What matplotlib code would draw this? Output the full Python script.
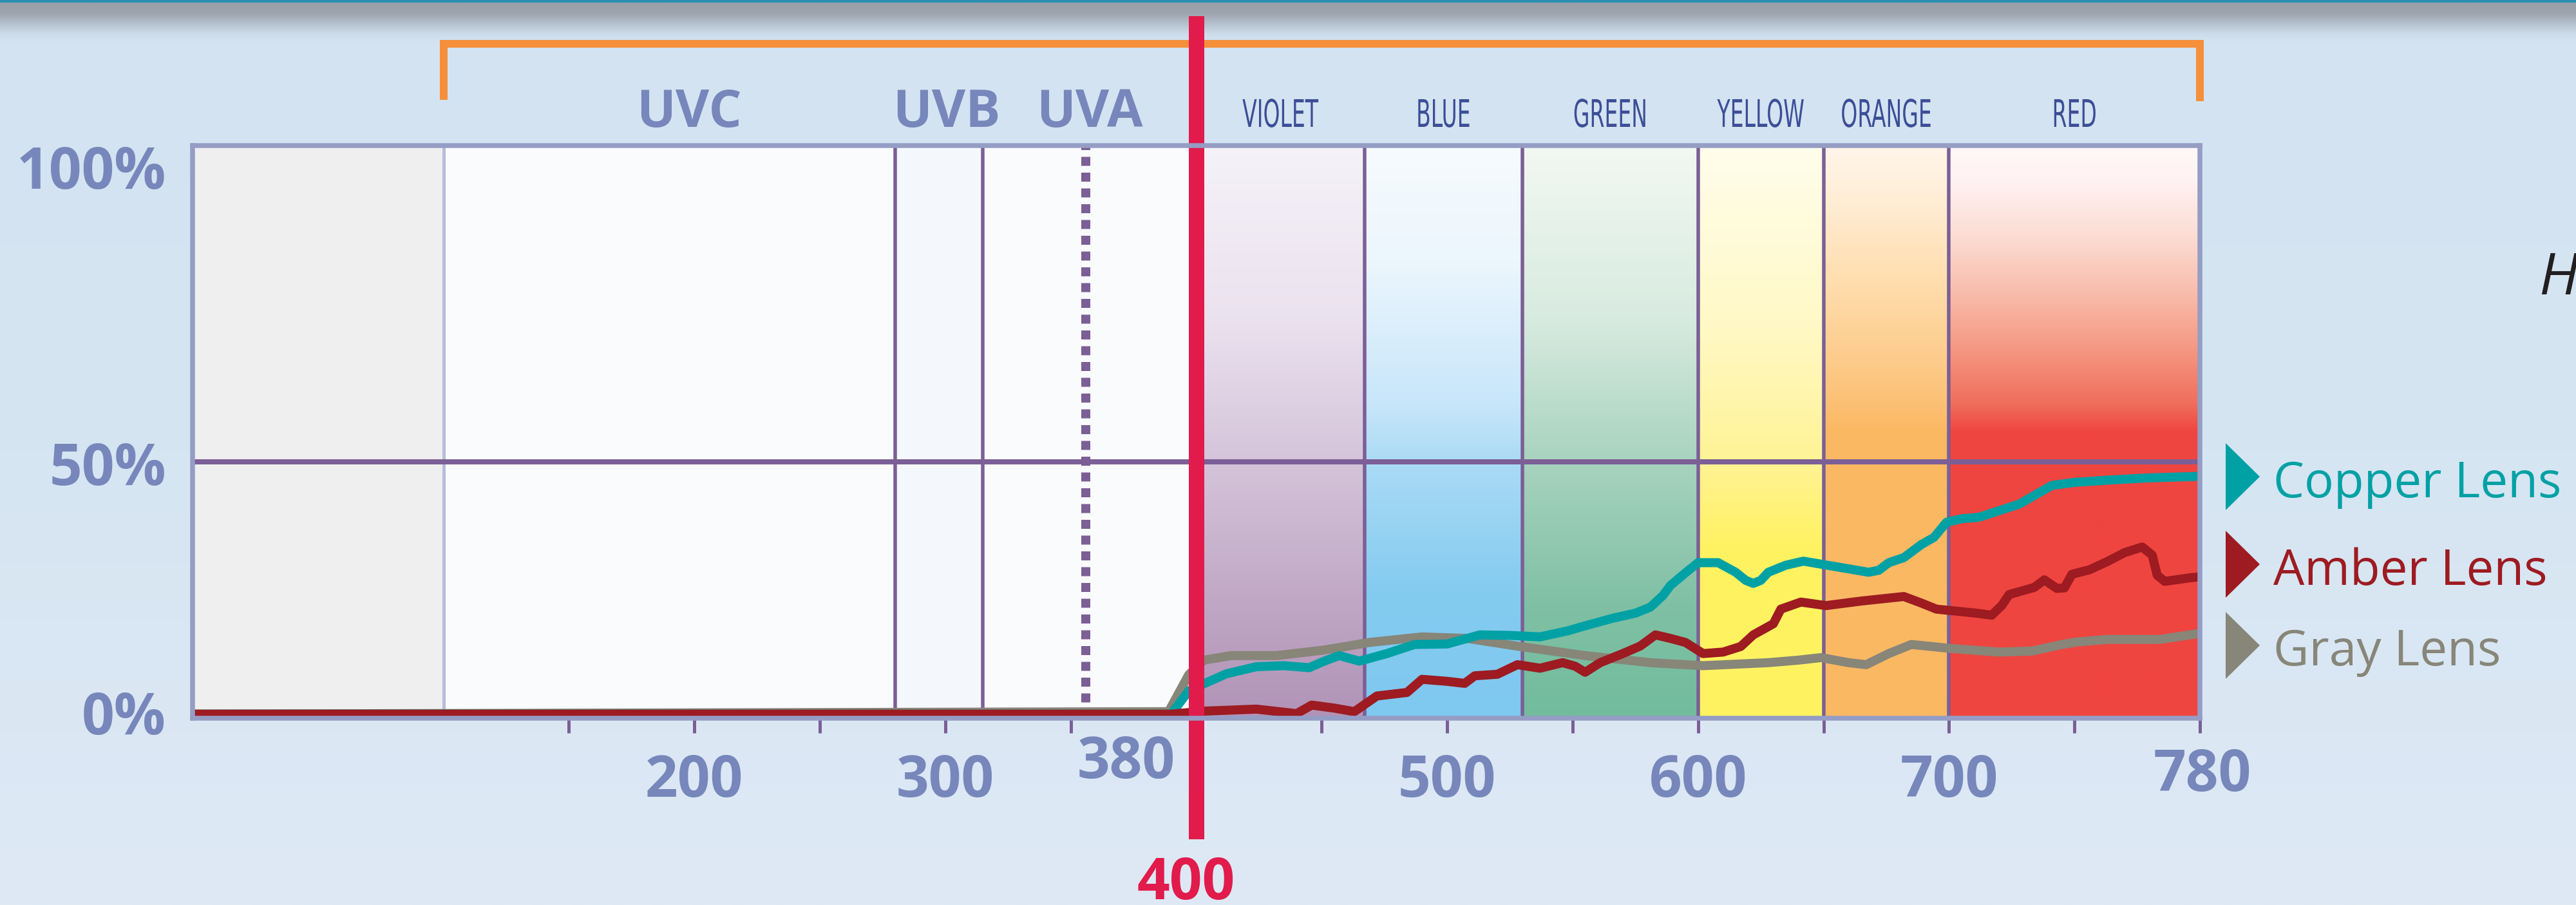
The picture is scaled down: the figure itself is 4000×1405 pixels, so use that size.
import numpy as np
import matplotlib
matplotlib.use("Agg")
import matplotlib.pyplot as plt
from matplotlib.transforms import blended_transform_factory, Affine2D
from matplotlib.patheffects import AbstractPathEffect
from matplotlib.patches import Polygon
from matplotlib.colors import to_rgb

# ---------------- data ----------------
gray_nm = [0, 389, 397, 403, 414, 432, 451, 469, 490, 508, 529, 555, 581, 602,
           628, 640, 649, 660, 667, 676, 685, 701, 720, 733, 745, 751, 763, 784, 800]
gray_pct = [0, 0.5, 7.8, 10.7, 11.6, 11.6, 12.7, 14.2, 15.3, 15.0, 13.4, 11.6, 10.2, 9.6,
            10.2, 10.7, 11.2, 10.2, 9.8, 12.0, 13.8, 13.0, 12.3, 12.5, 13.8, 14.3, 14.8, 14.8, 16.0]

copper_nm = [0, 390, 397, 403, 412, 424, 435, 445, 451, 457, 465, 476, 487, 500, 513,
             525, 537, 548, 555, 566, 575, 581, 586, 589, 595, 600, 608, 615, 619, 622,
             625, 628, 635, 642, 655, 668, 672, 676, 682, 689, 694, 699, 705, 712, 728,
             741, 750, 765, 780, 800]
copper_pct = [0, 0, 4.6, 6.0, 8.0, 9.4, 9.6, 9.2, 10.5, 11.6, 10.5, 12.0, 13.8, 13.9, 15.7,
              15.6, 15.3, 16.5, 17.5, 19.0, 20.0, 21.2, 23.5, 25.5, 28.0, 30.0, 30.0, 28.1, 26.5, 25.9,
              26.5, 28.1, 29.5, 30.3, 29.2, 28.1, 28.5, 30.0, 31.0, 33.6, 35.0, 38.0, 38.7, 39.0, 41.6,
              45.3, 45.9, 46.4, 46.8, 47.1]

amber_nm = [0, 390, 403, 424, 440, 446, 455, 463, 472, 484, 490, 500, 507, 511, 520,
            528, 537, 546, 551, 555, 561, 570, 577, 583, 589, 595, 602, 610, 617, 622,
            630, 633, 641, 651, 665, 682, 689, 695, 711, 717, 721, 724, 734, 738, 743,
            746, 749, 756, 763, 770, 777, 781, 783, 786, 796, 800]
amber_pct = [0, 0, 0.6, 1.0, 0.1, 1.8, 1.2, 0.5, 3.6, 4.3, 6.9, 6.5, 6.1, 7.6, 7.9,
             9.8, 9.1, 10.2, 9.5, 8.3, 10.2, 12.0, 13.5, 15.7, 15.0, 14.2, 12.0, 12.3, 13.4, 15.7,
             17.9, 20.8, 22.2, 21.5, 22.4, 23.3, 22.0, 20.8, 20.0, 19.6, 21.5, 23.7, 25.1, 26.6, 24.9,
             25.0, 27.7, 28.6, 30.2, 32.0, 33.1, 31.5, 27.5, 26.3, 27.0, 27.2]

series_names = ["Copper Lens", "Amber Lens", "Gray Lens"]

uv_edges = [100, 280, 315, 400]
uv_names = ["UVC", "UVB", "UVA"]
uva_dotted = 356
band_edges = [400, 467, 530, 600, 650, 700, 800]
band_names = ["VIOLET", "BLUE", "GREEN", "YELLOW", "ORANGE", "RED"]
x_ticks = [150, 200, 250, 300, 350, 450, 500, 550, 600, 650, 700, 750, 800]
x_labels = ["200", "300", "500", "600", "700"]
x_label_vals = [200, 300, 500, 600, 700]
marker_nm = 400
y_labels = ["100%", "50%", "0%"]

# ---------------- styling ----------------
W, H = 4000, 1405
PX = 72.0 / 100.0
BOLD = ["Open Sans", "DejaVu Sans"]
REG = ["Open Sans", "DejaVu Sans"]
LAV = "#7787bb"
PURPLE = "#7b5f96"
C_COPPER, C_AMBER, C_GRAY = "#00a1a5", "#9d1b21", "#878679"


def fx(px):
    return px / W


def fy(py):
    return 1 - py / H


def gradient(stops, n=500):
    pos = np.array([s[0] for s in stops])
    cols = np.array([to_rgb(s[1]) for s in stops])
    t = np.linspace(0, 1, n)
    return np.stack([np.interp(t, pos, cols[:, k]) for k in range(3)], axis=-1)


class Stretch(AbstractPathEffect):
    """Stretch a text's glyphs about its anchor point (gives a condensed look)."""

    def __init__(self, sx, sy, text):
        super().__init__((0, 0))
        self.sx, self.sy = sx, sy
        self.text = text

    def draw_path(self, renderer, gc, tpath, affine, rgbFace=None):
        cx, cy = self.text.get_transform().transform(self.text.get_position())
        aff = affine + Affine2D().translate(-cx, -cy).scale(self.sx, self.sy).translate(cx, cy)
        renderer.draw_path(gc, tpath, aff, rgbFace)


fig = plt.figure(figsize=(W / 100, H / 100), dpi=100)
fig.patch.set_facecolor("#d4e4f2")

# background
bg = fig.add_axes([0, 0, 1, 1], zorder=-5)
bg_stops = [(0 / H, "#2b8fb2"), (3 / H, "#2b8fb2"), (4 / H, "#9aa0aa"), (20 / H, "#9ea4ae"),
            (36 / H, "#b4c0cd"), (52 / H, "#cddcea"), (64 / H, "#d3e3f1"), (700 / H, "#d6e5f2"),
            (1.0, "#dee9f5")]
bg.imshow(gradient(bg_stops, H)[:, None, :], extent=(0, 1, 0, 1), aspect="auto",
          origin="upper", interpolation="bilinear")
bg.set_xlim(0, 1)
bg.set_ylim(0, 1)
bg.axis("off")

# main axes
YMIN, YMAX = -0.8, 112.6
ax = fig.add_axes([fx(299), fy(1115), fx(3416) - fx(299), fy(226) - fy(1115)])
ax.set_facecolor("#fafbfd")

ax.axvspan(0, uv_edges[0], color="#efefef", lw=0, zorder=0)
ax.axvspan(uv_edges[0], uv_edges[1], color="#fafbfd", lw=0, zorder=0)
ax.axvspan(uv_edges[1], uv_edges[2], color="#f4f8fc", lw=0, zorder=0)
ax.axvspan(uv_edges[2], uv_edges[3], color="#fafbfd", lw=0, zorder=0)

band_stops = {
    "VIOLET": [(0, "#f5f2f8"), (0.3, "#ebe2ef"), (0.55, "#d5c4da"), (0.83, "#bda4c2"), (1, "#b193b7")],
    "BLUE": [(0, "#f6fbfe"), (0.2, "#ecf6fd"), (0.45, "#c8e6fa"), (0.55, "#abdbf5"), (0.78, "#84cbf0"), (1, "#7fc8ef")],
    "GREEN": [(0, "#f2f8f2"), (0.3, "#d8ebe0"), (0.55, "#a8d3bf"), (0.8, "#80c0a5"), (1, "#72bc9e")],
    "YELLOW": [(0, "#fffdec"), (0.3, "#fff9c8"), (0.55, "#fff396"), (0.7, "#fff262"), (1, "#fff361")],
    "ORANGE": [(0, "#fff5e9"), (0.06, "#fff1de"), (0.25, "#ffdcaa"), (0.38, "#fdcb8a"), (0.5, "#fbb863"), (1, "#fbb862")],
    "RED": [(0, "#fff8f8"), (0.06, "#fff2f2"), (0.16, "#fcdcd2"), (0.25, "#f9bfae"), (0.35, "#f59a84"),
            (0.45, "#f06e5d"), (0.5, "#ef4540"), (1, "#ef4540")],
}
for i, name in enumerate(band_names):
    img = gradient(band_stops[name])[:, None, :]
    ax.imshow(img, extent=(band_edges[i], band_edges[i + 1], YMIN, YMAX), aspect="auto",
              origin="upper", interpolation="bilinear", zorder=0.5)

# grid / separators
ax.axvline(uv_edges[0], color="#b5bddc", lw=5 * PX, zorder=1.5)
for v in uv_edges[1:3] + band_edges[1:-1]:
    ax.axvline(v, color=PURPLE, lw=5.5 * PX, zorder=1.5)
ax.axvline(uva_dotted, color=PURPLE, lw=14 * PX, linestyle=(0, (1.0, 0.75)),
           dash_capstyle="butt", zorder=1.5)
ax.axhline(50, color=PURPLE, lw=8 * PX, zorder=2)

# curves
lw = 14 * PX
ax.plot(gray_nm, gray_pct, color=C_GRAY, lw=lw, zorder=3, solid_joinstyle="round")
ax.plot(copper_nm, copper_pct, color=C_COPPER, lw=lw, zorder=3.1, solid_joinstyle="round")
ax.plot(amber_nm, amber_pct, color=C_AMBER, lw=lw, zorder=3.2, solid_joinstyle="round")

blend = blended_transform_factory(ax.transData, fig.transFigure)
# orange bracket over the optical range
ax.plot([uv_edges[0], uv_edges[0], band_edges[-1], band_edges[-1]],
        [fy(155), fy(68), fy(68), fy(157)], transform=blend, color="#f68f3c",
        lw=12 * PX, clip_on=False, zorder=5, solid_joinstyle="miter", solid_capstyle="butt")
# 400 nm marker
ax.plot([marker_nm, marker_nm], [fy(25), fy(1303)], transform=blend, color="#e11b4b",
        lw=24 * PX, clip_on=False, zorder=6, solid_capstyle="butt")

ax.set_xlim(0, 800)
ax.set_ylim(YMIN, YMAX)
for s in ax.spines.values():
    s.set_color("#959dc5")
    s.set_linewidth(7.5 * PX)
    s.set_zorder(10)
ax.set_xticks(x_ticks)
ax.set_yticks([])
ax.tick_params(axis="x", length=23 * PX, width=5 * PX, color=PURPLE, labelbottom=False)

# x labels
for v, s in zip(x_label_vals, x_labels):
    ax.text(v, fy(1237), s, transform=blend, ha="center", va="baseline", fontsize=64,
            fontweight="bold", family=BOLD, color=LAV)
ax.text(372, fy(1208), "380", transform=blend, ha="center", va="baseline", fontsize=64,
        fontweight="bold", family=BOLD, color=LAV)
ax.text(801, fy(1228), "780", transform=blend, ha="center", va="baseline", fontsize=64,
        fontweight="bold", family=BOLD, color=LAV)
ax.text(396, fy(1396), str(marker_nm), transform=blend, ha="center", va="baseline",
        fontsize=64, fontweight="bold", family=BOLD, color="#e11b4b")

# y labels
for s, base in zip(y_labels, [293, 753, 1140]):
    fig.text(fx(258), fy(base), s, ha="right", va="baseline", fontsize=64,
             fontweight="bold", family=BOLD, color=LAV)

# UV labels
for s, v in zip(uv_names, [198, 300.5, 357.5]):
    ax.text(v, fy(197), s, transform=blend, ha="center", va="baseline", fontsize=58,
            fontweight="bold", family=BOLD, color=LAV)

# colour band labels (tall condensed lettering)
for i, s in enumerate(band_names):
    c = 0.5 * (band_edges[i] + band_edges[i + 1])
    t = ax.text(c, fy(197), s, transform=blend, ha="center", va="baseline", fontsize=23.8,
                family=["DejaVu Sans"], color="#3c4e97")
    t.set_path_effects([Stretch(1.0, 1.0 / 0.56, t)])

# legend
for name, col, yc, base in zip(series_names, [C_COPPER, C_AMBER, C_GRAY],
                               [740, 876, 1002], [772, 908, 1033]):
    tri = Polygon([(fx(3456), fy(yc - 52)), (fx(3456), fy(yc + 52)), (fx(3509), fy(yc))],
                  closed=True, transform=fig.transFigure, facecolor=col, edgecolor="none")
    fig.patches.append(tri)
    fig.text(fx(3530), fy(base), name, ha="left", va="baseline", fontsize=55,
             family=REG, color=col)

# cut-off caption at the right edge
fig.text(fx(3942), fy(457), "H", ha="left", va="baseline", fontsize=65, style="italic",
         family=REG, color="#231f20")

fig.savefig("out.png", dpi=100, facecolor=fig.get_facecolor())
